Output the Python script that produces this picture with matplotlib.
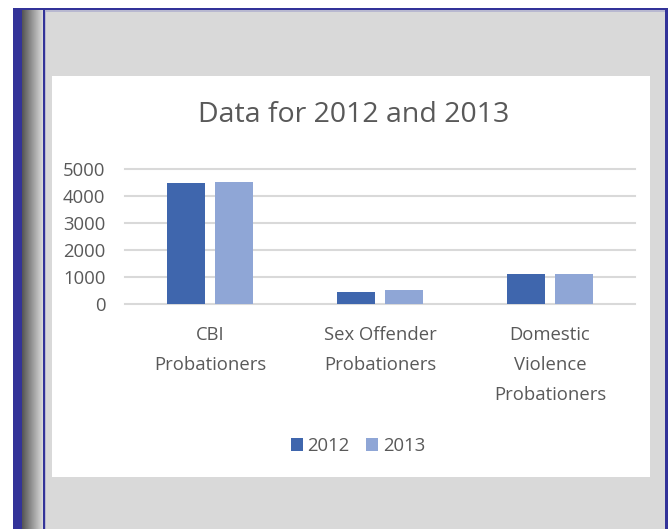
import matplotlib
matplotlib.use("Agg")
import matplotlib.pyplot as plt
import numpy as np
from matplotlib.patches import Rectangle

categories = ["CBI\nProbationers", "Sex Offender\nProbationers", "Domestic\nViolence\nProbationers"]
series_names = ["2012", "2013"]
values_2012 = [4470, 460, 1110]
values_2013 = [4520, 510, 1115]
yticks = [0, 1000, 2000, 3000, 4000, 5000]
title = "Data for 2012 and 2013"

W, H = 670, 529
plt.rcParams['font.family'] = ['Open Sans', 'DejaVu Sans']
fig = plt.figure(figsize=(W / 100, H / 100), dpi=100)
fig.patch.set_facecolor("white")

def px(x0, y0, x1, y1):
    # pixel box (top-left origin) -> figure fraction rect
    return (x0 / W, 1 - y1 / H, (x1 - x0) / W, (y1 - y0) / H)

def rect(x0, y0, x1, y1, color):
    l, b, w, h = px(x0, y0, x1, y1)
    fig.patches.append(Rectangle((l, b), w, h, transform=fig.transFigure,
                                 facecolor=color, edgecolor="none", zorder=-10))

blue = "#333399"
rect(13, 8, 668, 529, blue)
rect(46, 10, 665, 529, "#D9D9D9")
rect(46, 10, 665, 11.5, "#B8B8D0")
rect(44, 10, 46, 529, "#B8B8D0")
rect(43, 10, 45, 529, blue)
# white chart area
rect(52, 76, 650, 477, "white")
# gradient strip
gax = fig.add_axes(px(22, 10, 43, 529), zorder=-5)
grad = np.linspace(0.33, 0.86, 64)[None, :]
gax.imshow(grad, aspect="auto", cmap="gray", vmin=0, vmax=1, extent=(0, 1, 0, 1))
gax.axis("off")

ax = fig.add_axes(px(125, 169, 635, 304), zorder=1)
ax.set_facecolor("none")
x = np.arange(len(categories))
bw = 0.224
gap = 0.06
c1, c2 = "#3F66AD", "#8FA6D6"
ax.bar(x - (bw + gap) / 2, values_2012, bw, color=c1, label=series_names[0], zorder=3)
ax.bar(x + (bw + gap) / 2, values_2013, bw, color=c2, label=series_names[1], zorder=3)
ax.set_xlim(-0.5, 2.5)
ax.set_ylim(0, 5000)
ax.set_yticks(yticks)
ax.set_yticklabels([str(v) for v in yticks])
for v in yticks:
    ax.axhline(v, color="#D9D9D9", lw=1.5, zorder=1, clip_on=False)
for s in ax.spines.values():
    s.set_visible(False)
ax.tick_params(axis="both", length=0, colors="#595959", labelsize=13.3)
ax.tick_params(axis="y", pad=14)
ax.set_xticks(x)
ax.set_xticklabels(categories, linespacing=1.85)
ax.tick_params(axis="x", pad=16)

fig.text(354 / W, 1 - 115 / H, title, ha="center", va="center",
         fontsize=20.5, color="#595959")

leg = ax.legend(loc="center", bbox_to_anchor=((358 - 125) / 510, (304 - 446) / 135),
                ncol=2, frameon=False, fontsize=13.3, handlelength=0.65, handleheight=0.65,
                handletextpad=0.25, columnspacing=0.9, labelcolor="#595959")

fig.savefig("out.png", dpi=100)
